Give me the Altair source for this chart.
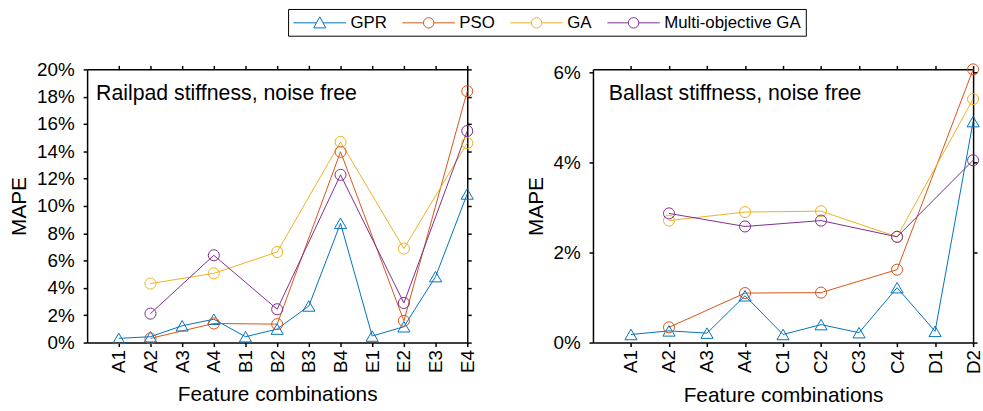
import json
import altair as alt
import pandas as pd

# ---------------- data ----------------
series_names = ["GPR", "PSO", "GA", "Multi-objective GA"]
series_colors = ["#0072BD", "#D95319", "#EDB120", "#7E2F8E"]

rail_cats = ["A1", "A2", "A3", "A4", "B1", "B2", "B3", "B4", "E1", "E2", "E3", "E4"]
rail_gpr = [0.31, 0.43, 1.23, 1.71, 0.43, 0.99, 2.68, 8.73, 0.48, 1.16, 4.83, 10.88]
rail_sub = ["A2", "A4", "B2", "B4", "E2", "E4"]
rail_pso = [0.31, 1.40, 1.35, 13.97, 1.59, 18.40]
rail_ga = [4.32, 5.07, 6.63, 14.69, 6.88, 14.60]
rail_moga = [2.12, 6.39, 2.44, 12.28, 2.90, 15.49]

bal_cats = ["A1", "A2", "A3", "A4", "C1", "C2", "C3", "C4", "D1", "D2"]
bal_gpr = [0.18, 0.26, 0.21, 1.04, 0.18, 0.40, 0.22, 1.22, 0.25, 4.91]
bal_sub = ["A2", "A4", "C2", "C4", "D2"]
bal_pso = [0.34, 1.10, 1.11, 1.62, 6.07]
bal_ga = [2.71, 2.90, 2.92, 2.35, 5.41]
bal_moga = [2.87, 2.58, 2.71, 2.35, 4.05]

rail_title = "Railpad stiffness, noise free"
bal_title = "Ballast stiffness, noise free"
x_title = "Feature combinations"
y_title = "MAPE"

FONT = "Liberation Sans"


def long_table(cats, gpr, sub, pso, ga, moga):
    rows = []
    for c, v in zip(cats, gpr):
        rows.append({"cat": c, "idx": cats.index(c) + 1, "series": "GPR", "value": v / 100})
    for name, vals in (("PSO", pso), ("GA", ga), ("Multi-objective GA", moga)):
        for c, v in zip(sub, vals):
            rows.append({"cat": c, "idx": cats.index(c) + 1, "series": name, "value": v / 100})
    return pd.DataFrame(rows)


# legend symbols: line + marker (custom SVG paths)
tri_path = ("M-1,0L1.72,0M2.52,0L5.24,0"
            "M2.12,-0.72L2.84,0.6L1.4,0.6Z")
circ_path = ("M-1,0L1.5,0M2.74,0L5.24,0"
             "M2.74,0A0.62,0.62,0,1,1,1.5,0A0.62,0.62,0,1,1,2.74,0")
legend_paths = [tri_path, circ_path, circ_path, circ_path]


def panel(cats, df, ymax, yvals, label, label_dx, with_legend):
    n = len(cats)
    label_expr = json.dumps(cats) + "[datum.value - 1]"
    xscale = alt.Scale(domain=[0, n], nice=False, zero=False)
    yscale = alt.Scale(domain=[0, ymax], nice=False, zero=True)

    def X(axis=None):
        return alt.X("idx:Q", scale=xscale, axis=axis)

    def Y(axis=None):
        return alt.Y("value:Q", scale=yscale, axis=axis)

    # plot colour scale (domain listed in reverse so it is kept apart from the legend's scales)
    color = alt.Color("series:N", scale=alt.Scale(domain=series_names[::-1], range=series_colors[::-1]),
                      legend=None)
    base = alt.Chart(df)

    bottom_axis = alt.Axis(orient="bottom", values=list(range(1, n + 1)), labelExpr=label_expr,
                           labelAngle=-90, title=x_title, grid=False, labelPadding=3,
                           titlePadding=11)
    left_axis = alt.Axis(orient="left", values=yvals, format=".0%", title=y_title, grid=False,
                         labelPadding=9, titlePadding=7)
    top_axis = alt.Axis(orient="top", values=list(range(1, n + 1)), labels=False, title=None, grid=False)
    right_axis = alt.Axis(orient="right", values=yvals, labels=False, title=None, grid=False)

    frame1 = base.mark_point(opacity=0).encode(x=X(bottom_axis), y=Y(left_axis))
    frame2 = base.mark_point(opacity=0).encode(x=X(top_axis), y=Y(right_axis))

    lines = base.mark_line(strokeWidth=1).encode(
        x=X(), y=Y(), color=color, detail="series:N", order="idx:Q")
    tri = base.transform_filter(alt.datum.series == "GPR").mark_point(
        shape="triangle-up", size=150, filled=False, strokeWidth=1, opacity=1).encode(
        x=X(), y=Y(), color=color)
    circ = base.transform_filter(alt.datum.series != "GPR").mark_point(
        shape="circle", size=125, filled=False, strokeWidth=1, opacity=1).encode(
        x=X(), y=Y(), color=color)

    txt = alt.Chart(pd.DataFrame({"t": [label]})).mark_text(
        align="left", baseline="alphabetic", fontSize=21.5, font=FONT, color="black").encode(
        text="t:N", x=alt.value(label_dx), y=alt.value(31))

    layers = [frame1, frame2, lines, tri, circ, txt]

    if with_legend:
        leg = alt.Legend(title=None, orient="none", direction="horizontal", legendX=203, legendY=-61,
                         labelFontSize=17, labelFont=FONT, labelColor="black",
                         symbolSize=289, symbolStrokeWidth=1, labelOffset=40, columnPadding=13,
                         padding=5, strokeColor="black", fillColor="white", columns=4)
        legend_layer = base.transform_filter(alt.datum.series == "GPR").mark_point(
            filled=False, strokeWidth=1, opacity=0).encode(
            x=X(), y=Y(),
            stroke=alt.Stroke("series:N", scale=alt.Scale(domain=series_names, range=series_colors),
                              legend=leg),
            shape=alt.Shape("series:N", scale=alt.Scale(domain=series_names, range=legend_paths),
                            legend=leg),
        )
        layers.append(legend_layer)

    return alt.layer(*layers).resolve_axis(x="independent", y="independent").properties(
        width=384, height=276)


left = panel(rail_cats, long_table(rail_cats, rail_gpr, rail_sub, rail_pso, rail_ga, rail_moga),
             0.20, [i / 100 for i in range(0, 21, 2)], rail_title, 9, True)
right = panel(bal_cats, long_table(bal_cats, bal_gpr, bal_sub, bal_pso, bal_ga, bal_moga),
              0.0607, [0, 0.02, 0.04, 0.06], bal_title, 16, False)

chart = alt.hconcat(left, right, spacing=43).properties(
    padding={"left": 8, "top": 6, "right": 0, "bottom": 0}
).configure(font=FONT).configure_view(stroke=None).configure_legend(
    symbolOpacity=1
).configure_axis(
    domainColor="black", domainWidth=1.5, tickColor="black", tickWidth=1.5, tickSize=4,
    labelColor="black", titleColor="black", labelFontSize=19, titleFontSize=21,
    titleFontWeight="normal", labelFont=FONT, titleFont=FONT
)

chart.save("out.html", embed_options={"renderer": "svg", "actions": False})
